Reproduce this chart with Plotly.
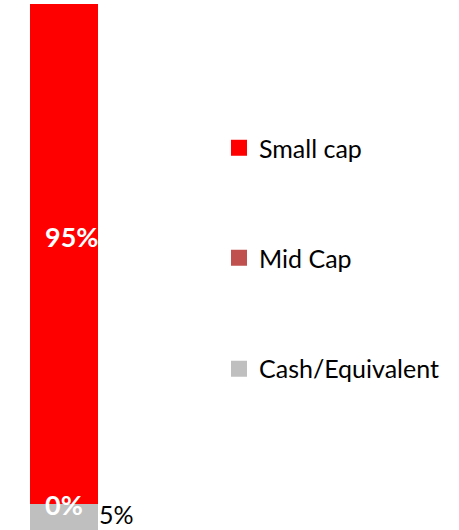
import plotly.graph_objects as go

categories = [""]
series_names = ["Cash/Equivalent", "Mid Cap", "Small cap"]
series_values = [[5], [0], [95]]
series_colors = ["#BFBFBF", "#C0504D", "#FF0000"]
label_colors = ["#000000", "#FFFFFF", "#FFFFFF"]

FONT = "Lato, sans-serif"
W, H = 459, 530
ML, MT = 30, 4
plot_w = W - ML

fig = go.Figure()
for name, vals, col in zip(series_names, series_values, series_colors):
    fig.add_trace(go.Bar(x=categories, y=vals, name=name, marker=dict(color=col, line=dict(width=0)),
                         showlegend=False, hoverinfo="skip"))

# legend entries (separate legends positioned like the reference)
legend_ids = {"Small cap": "legend", "Mid Cap": "legend2", "Cash/Equivalent": "legend3"}
legend_y = {"legend": 0.7262, "legend2": 0.5171, "legend3": 0.3061}
for name, col in zip(series_names, series_colors):
    fig.add_trace(go.Scatter(x=[None], y=[None], mode="markers", name=name,
                             marker=dict(symbol="square", size=18, color=col),
                             legend=legend_ids[name], showlegend=True))

# labels
cum = 0
annotations = []
shifts = [(0, 0), (0, -1), (7, 17)]
for i, (name, vals) in enumerate(zip(series_names, series_values)):
    v = vals[0]
    mid = cum + v / 2
    if i == 0:
        annotations.append(dict(x=0.5, y=mid, xref="x", yref="y", text=f"{v}%", showarrow=False,
                                xanchor="left", yanchor="middle", xshift=-1, yshift=3,
                                font=dict(family=FONT, size=25, color=label_colors[i])))
    else:
        annotations.append(dict(x=0, y=mid, xref="x", yref="y", text=f"<b>{v}%</b>", showarrow=False,
                                xanchor="center", yanchor="middle",
                                xshift=shifts[i][0], yshift=shifts[i][1],
                                font=dict(family=FONT, size=27, color=label_colors[i])))
    cum += v

leg_common = dict(x=(219 - ML) / plot_w, xanchor="left", yanchor="middle", bgcolor="rgba(0,0,0,0)",
                  font=dict(family=FONT, size=25, color="#000000"), itemsizing="trace")
fig.update_layout(
    width=W, height=H,
    margin=dict(l=ML, r=0, t=MT, b=0, pad=0),
    paper_bgcolor="white", plot_bgcolor="white",
    barmode="stack", bargap=0,
    xaxis=dict(domain=[0, 68 / plot_w], range=[-0.5, 0.5], visible=False, fixedrange=True),
    yaxis=dict(range=[0, 100], visible=False, fixedrange=True),
    annotations=annotations,
    legend=dict(y=legend_y["legend"], **leg_common),
    legend2=dict(y=legend_y["legend2"], **leg_common),
    legend3=dict(y=legend_y["legend3"], **leg_common),
    font=dict(family=FONT),
)
fig.write_html("out.html", config={"displayModeBar": False},
               post_script="document.body.style.margin='0';document.body.style.overflow='hidden';")
